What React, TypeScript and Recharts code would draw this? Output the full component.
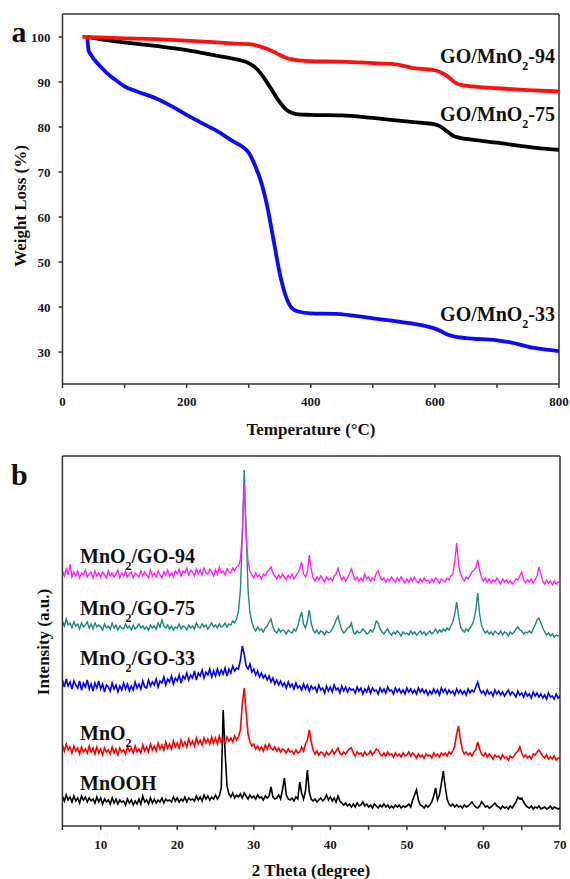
import React from 'react'
import { Line, LineChart, ReferenceLine, XAxis, YAxis } from 'recharts'

const SERIF = '"Liberation Serif", "Times New Roman", Times, serif'
const AXIS = '#333'

// ---- (a) TGA, temperature (°C) / weight (%) ----
const temp94 = [32, 60, 100, 150, 200, 250, 280, 300, 310, 320, 330, 340, 350, 360, 370, 380, 400, 450, 500, 530, 550, 565, 580, 600, 610, 620, 630, 640, 660, 700, 750, 800]
const weight94 = [100, 99.9, 99.7, 99.5, 99.2, 98.8, 98.5, 98.4, 98.2, 97.8, 97.3, 96.7, 96.0, 95.4, 95.0, 94.8, 94.6, 94.5, 94.2, 94.0, 93.6, 93.1, 92.9, 92.6, 92.1, 91.3, 90.1, 89.4, 89.0, 88.6, 88.2, 87.9]

const temp75 = [40, 60, 100, 150, 200, 250, 280, 300, 310, 320, 330, 340, 350, 360, 370, 380, 400, 450, 500, 550, 580, 600, 610, 620, 630, 640, 660, 700, 750, 800]
const weight75 = [100, 99.5, 98.8, 98.0, 97.1, 95.8, 95.0, 94.2, 93.3, 91.8, 89.8, 87.6, 85.5, 83.9, 83.1, 82.8, 82.7, 82.6, 82.0, 81.3, 80.9, 80.6, 80.0, 79.0, 78.0, 77.6, 77.2, 76.5, 75.6, 74.9]

const temp33 = [40, 41, 42, 45, 50, 60, 70, 80, 90, 100, 120, 150, 175, 200, 220, 250, 275, 290, 300, 310, 320, 330, 340, 350, 360, 370, 380, 400, 440, 500, 560, 590, 600, 610, 620, 630, 650, 700, 720, 760, 800]
const weight33 = [100, 98.2, 97.0, 96.2, 95.2, 93.6, 92.2, 91.0, 90.0, 89.0, 87.9, 86.4, 84.7, 82.7, 81.2, 79.0, 76.8, 75.6, 74.3, 71.5, 67.8, 62.3, 54.9, 47.5, 42.3, 39.7, 39.0, 38.6, 38.5, 37.5, 36.4, 35.6, 35.2, 34.6, 33.9, 33.5, 33.1, 32.6, 32.2, 30.9, 30.2]

const tgaXTicks = [0, 100, 200, 300, 400, 500, 600, 700, 800]
const tgaYTicks = [30, 40, 50, 60, 70, 80, 90, 100]

// ---- (b) XRD, 2θ from 5° to 70° in 0.25° steps, stacked intensity (a.u.) ----
const xrdStart = 5
const xrdStep = 0.25

const mnGo94 = [
  255, 250, 257, 251, 262, 249, 254, 250,
  255, 248, 253, 251, 256, 249, 252, 254,
  248, 255, 250, 253, 249, 254, 251, 248,
  255, 250, 253, 249, 252, 256, 248, 253,
  250, 255, 249, 252, 254, 248, 253, 251,
  249, 255, 250, 254, 251, 248, 256, 250,
  253, 249, 255, 251, 248, 254, 251, 256,
  250, 253, 249, 255, 252, 257, 250, 255,
  253, 258, 251, 256, 254, 250, 257, 252,
  256, 251, 258, 253, 252, 257, 254, 250,
  256, 252, 259, 253, 255, 251, 257, 254,
  253, 258, 255, 259, 260, 266, 292, 343,
  290, 264, 255, 251, 248, 253, 249, 251,
  247, 252, 250, 254, 256, 259, 253, 250,
  247, 251, 248, 252, 249, 246, 251, 248,
  252, 247, 250, 253, 257, 264, 252, 249,
  254, 271, 257, 248, 245, 249, 246, 250,
  247, 244, 249, 246, 248, 245, 250, 252,
  258, 251, 246, 249, 245, 248, 252, 257,
  251, 246, 249, 245, 248, 245, 252, 247,
  249, 245, 248, 246, 253, 255, 249, 246,
  248, 244, 247, 245, 249, 246, 244, 248,
  245, 249, 246, 243, 247, 244, 248, 245,
  249, 245, 243, 247, 244, 248, 245, 246,
  243, 247, 244, 248, 246, 243, 247, 245,
  244, 248, 246, 250, 252, 265, 283, 262,
  252, 248, 245, 249, 247, 250, 254, 256,
  258, 266, 256, 249, 245, 248, 244, 247,
  243, 246, 244, 248, 245, 242, 247, 244,
  246, 243, 245, 242, 244, 247, 246, 250,
  254, 246, 243, 246, 244, 247, 243, 246,
  250, 259, 252, 245, 242, 246, 243, 245,
  241, 245, 242, 244, 243,
]

const mnGo75 = [
  205, 200, 207, 201, 203, 198, 204, 200,
  202, 197, 203, 199, 201, 204, 198, 202,
  197, 203, 199, 201, 199, 196, 202, 198,
  200, 197, 203, 198, 201, 196, 200, 198,
  197, 202, 198, 200, 196, 201, 197, 199,
  202, 198, 200, 197, 199, 196, 201, 198,
  200, 197, 203, 199, 206, 200, 198, 201,
  197, 200, 196, 199, 198, 202, 197, 200,
  199, 196, 201, 198, 200, 197, 203, 199,
  198, 202, 199, 201, 197, 200, 203, 199,
  201, 198, 202, 199, 200, 203, 199, 202,
  201, 205, 203, 207, 215, 236, 290, 356,
  296, 236, 213, 204, 198, 195, 199, 196,
  197, 194, 198, 200, 204, 207, 199, 195,
  193, 197, 194, 196, 195, 192, 196, 194,
  193, 197, 195, 200, 208, 214, 202, 198,
  205, 216, 203, 196, 193, 196, 192, 195,
  194, 191, 195, 193, 194, 197, 201, 206,
  210, 202, 196, 193, 195, 198, 199, 203,
  194, 192, 195, 193, 194, 197, 195, 192,
  193, 196, 194, 198, 205, 203, 197, 194,
  192, 195, 197, 193, 191, 194, 192, 195,
  193, 190, 194, 192, 193, 191, 195, 192,
  194, 191, 193, 195, 192, 194, 191, 193,
  195, 192, 194, 197, 193, 196, 194, 197,
  195, 198, 196, 200, 204, 212, 224, 210,
  199, 196, 194, 197, 195, 198, 201, 206,
  216, 233, 212, 201, 196, 193, 195, 192,
  194, 191, 195, 193, 192, 195, 191, 194,
  193, 190, 194, 192, 194, 197, 199, 196,
  195, 192, 194, 193, 195, 193, 197, 201,
  206, 208, 203, 198, 194, 191, 193, 190,
  192, 189, 191, 190, 191,
]

const mnGo33 = [
  146, 139, 147, 140, 144, 137, 145, 141,
  138, 145, 136, 143, 139, 146, 137, 142,
  135, 143, 138, 145, 137, 142, 134, 141,
  139, 135, 143, 137, 141, 134, 140, 136,
  143, 137, 142, 135, 140, 136, 144, 138,
  142, 137, 145, 139, 138, 146, 140, 144,
  141, 147, 139, 145, 143, 149, 141, 147,
  144, 150, 142, 148, 145, 151, 143, 150,
  147, 153, 146, 151, 148, 155, 146, 153,
  150, 156, 148, 154, 151, 157, 149, 155,
  150, 157, 151, 156, 152, 158, 150, 157,
  153, 160, 155, 158, 157, 166, 180, 172,
  160, 157, 162, 154, 157, 151, 155, 149,
  153, 148, 151, 146, 150, 144, 148, 142,
  146, 141, 145, 140, 143, 138, 144, 139,
  142, 137, 143, 138, 140, 136, 142, 137,
  141, 135, 140, 137, 139, 134, 141, 136,
  138, 133, 140, 135, 139, 134, 141, 136,
  138, 133, 140, 135, 139, 134, 138, 136,
  137, 133, 139, 135, 138, 132, 137, 134,
  139, 133, 138, 135, 136, 132, 138, 134,
  137, 133, 139, 135, 136, 132, 138, 134,
  137, 133, 136, 132, 138, 134, 137, 133,
  136, 132, 138, 134, 137, 133, 136, 131,
  135, 132, 137, 133, 136, 131, 138, 134,
  137, 132, 136, 133, 135, 131, 137, 133,
  136, 132, 135, 131, 137, 133, 136, 134,
  139, 144, 137, 133, 135, 131, 136, 132,
  134, 130, 136, 132, 135, 131, 134, 130,
  133, 136, 131, 134, 132, 129, 135, 131,
  133, 129, 134, 130, 132, 128, 134, 130,
  133, 129, 132, 128, 131, 127, 133, 129,
  130, 127, 132, 128, 130,
]

const mnO2 = [
  81, 75, 82, 76, 79, 73, 80, 75,
  78, 72, 79, 74, 77, 73, 80, 74,
  78, 72, 79, 73, 77, 71, 78, 74,
  76, 72, 79, 73, 77, 71, 78, 74,
  76, 72, 79, 75, 78, 73, 80, 74,
  77, 73, 81, 75, 79, 74, 82, 76,
  80, 75, 83, 77, 81, 76, 84, 78,
  82, 77, 85, 79, 83, 78, 86, 80,
  84, 79, 87, 81, 85, 80, 88, 82,
  86, 81, 88, 83, 87, 82, 89, 83,
  88, 82, 90, 84, 87, 83, 89, 85,
  88, 84, 90, 86, 89, 96, 122, 138,
  114, 92, 84, 80, 82, 77, 80, 76,
  79, 75, 81, 77, 82, 78, 76, 79,
  75, 78, 74, 77, 76, 73, 77, 74,
  75, 72, 76, 73, 74, 79, 75, 82,
  86, 96, 84, 76, 72, 75, 71, 74,
  73, 70, 74, 71, 73, 76, 72, 75,
  78, 73, 71, 74, 72, 75, 77, 78,
  73, 70, 74, 72, 73, 70, 74, 71,
  72, 75, 71, 74, 77, 76, 72, 70,
  73, 70, 74, 71, 72, 69, 73, 70,
  72, 69, 73, 70, 71, 74, 70, 73,
  71, 68, 72, 69, 71, 68, 72, 70,
  71, 68, 73, 70, 72, 69, 73, 71,
  73, 70, 74, 72, 75, 80, 92, 100,
  86, 76, 72, 74, 71, 73, 70, 74,
  76, 84, 77, 72, 70, 73, 69, 72,
  70, 67, 71, 69, 70, 67, 71, 68,
  69, 66, 70, 68, 70, 73, 75, 79,
  73, 69, 71, 68, 70, 67, 72, 71,
  74, 76, 73, 70, 68, 71, 67, 69,
  67, 70, 66, 68, 68,
]

const mnOOH = [
  30, 25, 31, 26, 29, 24, 30, 25,
  28, 23, 30, 26, 29, 24, 28, 25,
  27, 23, 29, 24, 28, 22, 27, 24,
  26, 22, 28, 23, 27, 22, 26, 24,
  25, 21, 27, 23, 26, 21, 25, 22,
  27, 22, 30, 24, 26, 22, 28, 23,
  27, 23, 26, 24, 28, 23, 27, 25,
  26, 24, 29, 25, 28, 24, 27, 25,
  29, 24, 28, 26, 27, 25, 30, 26,
  29, 25, 31, 27, 30, 26, 29, 27,
  31, 27, 30, 38, 116, 74, 40, 32,
  29, 33, 28, 31, 29, 32, 28, 33,
  30, 27, 31, 28, 30, 27, 31, 28,
  29, 26, 30, 28, 30, 39, 29, 27,
  28, 31, 27, 36, 48, 31, 27, 26,
  28, 25, 29, 27, 44, 33, 27, 35,
  56, 34, 27, 25, 27, 24, 26, 28,
  25, 27, 31, 26, 29, 25, 28, 24,
  30, 25, 23, 21, 23, 20, 22, 19,
  22, 19, 23, 20, 21, 24, 20, 22,
  19, 21, 18, 22, 20, 18, 21, 19,
  22, 19, 21, 18, 20, 18, 21, 19,
  21, 18, 20, 19, 20, 22, 19, 26,
  31, 36, 26, 21, 20, 18, 21, 19,
  21, 24, 30, 38, 26, 31, 42, 55,
  40, 27, 22, 20, 22, 19, 21, 19,
  20, 18, 21, 19, 20, 22, 24, 21,
  19, 18, 20, 24, 22, 19, 20, 18,
  19, 21, 23, 20, 19, 17, 20, 18,
  19, 17, 20, 18, 21, 24, 29, 27,
  28, 24, 21, 19, 18, 20, 17, 19,
  18, 20, 17, 18, 19, 17, 18, 20,
  17, 19, 18, 17, 18,
]

const xrdXTicks = [5, 10, 15, 20, 25, 30, 35, 40, 45, 50, 55, 60, 65, 70]

const toPoints = (temps: number[], weights: number[]) => temps.map((t, i) => ({ t, w: weights[i] }))
const tga94 = toPoints(temp94, weight94)
const tga75 = toPoints(temp75, weight75)
const tga33 = toPoints(temp33, weight33)

const xrdRows = mnOOH.map((_, i) => ({
  x: xrdStart + i * xrdStep,
  mnooh: mnOOH[i],
  mno2: mnO2[i],
  go33: mnGo33[i],
  go75: mnGo75[i],
  go94: mnGo94[i],
}))

const tickStyle = { fill: '#1a1a1a', fontSize: 13, fontWeight: 700, fontFamily: SERIF }
const labelEvery = (step: number) => (v: number) => (v % step === 0 ? String(v) : '')

const Overlay = () => (
  <svg
    width={570}
    height={879}
    style={{ position: 'absolute', left: 0, top: 0, pointerEvents: 'none' }}
    fontFamily={SERIF}
    fontWeight={700}
    fill="#111"
  >
    <text x={11.5} y={42} fontSize={30}>a</text>
    <text x={11} y={485} fontSize={30}>b</text>

    <g fontSize={20} textAnchor="end">
      <text x={555} y={63}>GO/MnO<tspan dy={7} fontSize={12}>2</tspan><tspan dy={-7}>-94</tspan></text>
      <text x={555} y={121}>GO/MnO<tspan dy={7} fontSize={12}>2</tspan><tspan dy={-7}>-75</tspan></text>
      <text x={555} y={321}>GO/MnO<tspan dy={7} fontSize={12}>2</tspan><tspan dy={-7}>-33</tspan></text>
    </g>

    <g fontSize={20}>
      <text x={80} y={563}>MnO<tspan dy={7} fontSize={12}>2</tspan><tspan dy={-7}>/GO-94</tspan></text>
      <text x={80} y={615}>MnO<tspan dy={7} fontSize={12}>2</tspan><tspan dy={-7}>/GO-75</tspan></text>
      <text x={80} y={665}>MnO<tspan dy={7} fontSize={12}>2</tspan><tspan dy={-7}>/GO-33</tspan></text>
      <text x={80} y={740}>MnO<tspan dy={7} fontSize={12}>2</tspan></text>
      <text x={80} y={790}>MnOOH</text>
    </g>

    <g fontSize={17} textAnchor="middle">
      <text x={311} y={435}>Temperature (°C)</text>
      <text x={311} y={876}>2 Theta (degree)</text>
      <text transform="translate(26 206) rotate(-90)">Weight Loss (%)</text>
      <text transform="translate(49 642) rotate(-90)">Intensity (a.u.)</text>
    </g>
  </svg>
)

const App = () => (
  <div style={{ position: 'absolute', left: 0, top: 0, width: 570, height: 879, overflow: 'hidden', background: '#fff' }}>
    <div style={{ position: 'absolute', left: 0, top: 0 }}>
      <LineChart width={570} height={440} margin={{ top: 14, right: 11, bottom: 0, left: 0 }}>
        <XAxis
          type="number"
          dataKey="t"
          domain={[0, 800]}
          ticks={tgaXTicks}
          interval={0}
          tickFormatter={labelEvery(200)}
          height={56}
          tickSize={4}
          tickMargin={9}
          stroke={AXIS}
          strokeWidth={1.5}
          tick={tickStyle}
          allowDataOverflow
        />
        <YAxis
          type="number"
          domain={[22.9, 105.1]}
          ticks={tgaYTicks}
          interval={0}
          width={62.5}
          tickSize={4}
          tickMargin={8}
          stroke={AXIS}
          strokeWidth={1.5}
          tick={tickStyle}
          allowDataOverflow
        />
        <ReferenceLine y={105.1} stroke={AXIS} strokeWidth={1.5} />
        <ReferenceLine x={800} stroke={AXIS} strokeWidth={1.5} />
        <Line data={tga75} dataKey="w" type="monotone" stroke="#000" strokeWidth={3.8} dot={false} isAnimationActive={false} />
        <Line data={tga33} dataKey="w" type="monotone" stroke="#0a0aff" strokeWidth={3.8} dot={false} isAnimationActive={false} />
        <Line data={tga94} dataKey="w" type="monotone" stroke="#ff1010" strokeWidth={3.8} dot={false} isAnimationActive={false} />
      </LineChart>
    </div>

    <div style={{ position: 'absolute', left: 0, top: 440 }}>
      <LineChart width={570} height={439} data={xrdRows} margin={{ top: 16, right: 10, bottom: 0, left: 0 }}>
        <XAxis
          type="number"
          dataKey="x"
          domain={[5, 70]}
          ticks={xrdXTicks}
          interval={0}
          tickFormatter={labelEvery(10)}
          height={53}
          tickSize={4}
          tickMargin={10}
          stroke={AXIS}
          strokeWidth={1.5}
          tick={tickStyle}
          allowDataOverflow
        />
        <YAxis type="number" domain={[0, 370]} width={62.4} tick={false} tickLine={false} stroke={AXIS} strokeWidth={1.5} allowDataOverflow />
        <ReferenceLine y={370} stroke={AXIS} strokeWidth={1.5} />
        <ReferenceLine x={70} stroke={AXIS} strokeWidth={1.5} />
        <Line dataKey="mnooh" type="linear" stroke="#000" strokeWidth={1.6} dot={false} isAnimationActive={false} />
        <Line dataKey="mno2" type="linear" stroke="#ff0000" strokeWidth={1.6} dot={false} isAnimationActive={false} />
        <Line dataKey="go33" type="linear" stroke="#0000ff" strokeWidth={1.6} dot={false} isAnimationActive={false} />
        <Line dataKey="go75" type="linear" stroke="#1a8a80" strokeWidth={1.4} dot={false} isAnimationActive={false} />
        <Line dataKey="go94" type="linear" stroke="#ff22ff" strokeWidth={1.4} dot={false} isAnimationActive={false} />
      </LineChart>
    </div>

    <Overlay />
  </div>
)

export default App
